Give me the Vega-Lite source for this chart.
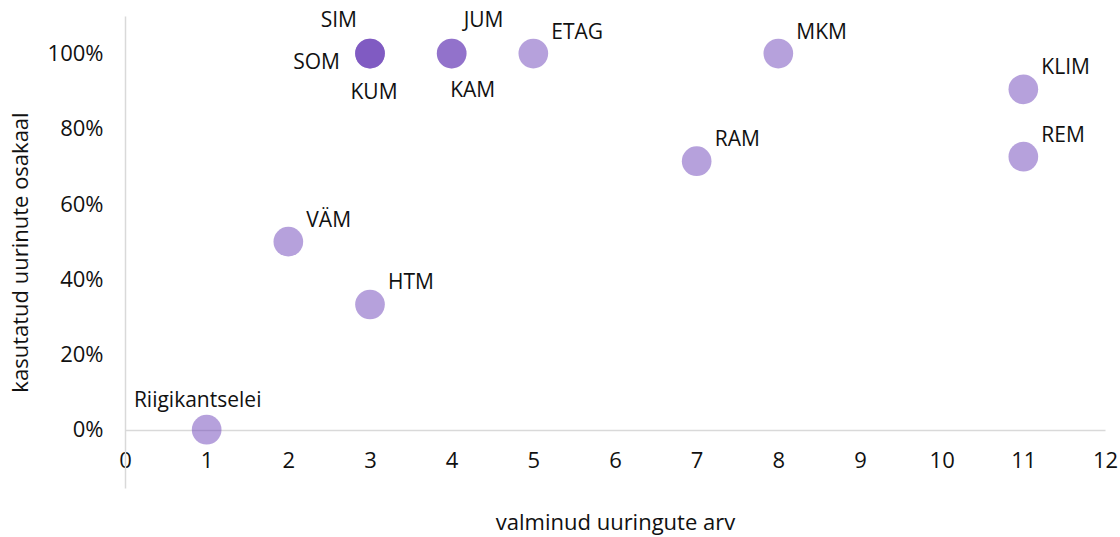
{
  "$schema": "https://vega.github.io/schema/vega-lite/v6.json",
  "width": 980,
  "height": 472,
  "autosize": "none",
  "padding": {"left": 125, "top": 16, "right": 15, "bottom": 49},
  "background": "white",
  "config": {
    "view": {"stroke": null},
    "font": "Open Sans",
    "text": {"font": "Open Sans", "fontSize": 21, "color": "#111111"}
  },
  "data": {
    "values": [
      {"asutus": "Riigikantselei", "uuringuid": 1, "osakaal": 0},
      {"asutus": "VÄM", "uuringuid": 2, "osakaal": 0.5},
      {"asutus": "HTM", "uuringuid": 3, "osakaal": 0.333},
      {"asutus": "SIM", "uuringuid": 3, "osakaal": 1},
      {"asutus": "SOM", "uuringuid": 3, "osakaal": 1},
      {"asutus": "KUM", "uuringuid": 3, "osakaal": 1},
      {"asutus": "JUM", "uuringuid": 4, "osakaal": 1},
      {"asutus": "KAM", "uuringuid": 4, "osakaal": 1},
      {"asutus": "ETAG", "uuringuid": 5, "osakaal": 1},
      {"asutus": "RAM", "uuringuid": 7, "osakaal": 0.714},
      {"asutus": "MKM", "uuringuid": 8, "osakaal": 1},
      {"asutus": "KLIM", "uuringuid": 11, "osakaal": 0.905},
      {"asutus": "REM", "uuringuid": 11, "osakaal": 0.726}
    ]
  },
  "encoding": {
    "x": {
      "field": "uuringuid", "type": "quantitative",
      "scale": {"domain": [0, 12], "nice": false, "zero": false},
      "axis": {
        "title": "valminud uuringute arv",
        "orient": "bottom",
        "offset": -58,
        "values": [0,1,2,3,4,5,6,7,8,9,10,11,12],
        "grid": false,
        "ticks": false,
        "tickSize": 0,
        "domainColor": "#d9d9d9",
        "domainWidth": 1.5,
        "labelFont": "Open Sans",
        "labelFontSize": 22,
        "labelColor": "#111111",
        "labelPadding": 20,
        "labelFlush": false,
        "titleFont": "Open Sans",
        "titleFontSize": 22,
        "titleFontWeight": "normal",
        "titleColor": "#111111",
        "titlePadding": 41
      }
    },
    "y": {
      "field": "osakaal", "type": "quantitative",
      "scale": {"domain": [-0.155, 1.1], "nice": false, "zero": false},
      "axis": {
        "title": "kasutatud uurinute osakaal",
        "values": [0, 0.2, 0.4, 0.6, 0.8, 1],
        "format": ".0%",
        "grid": false,
        "ticks": false,
        "tickSize": 0,
        "domainColor": "#d9d9d9",
        "domainWidth": 1.5,
        "labelFont": "Open Sans",
        "labelFontSize": 22,
        "labelColor": "#111111",
        "labelPadding": 22,
        "titleFont": "Open Sans",
        "titleFontSize": 22,
        "titleFontWeight": "normal",
        "titleColor": "#111111",
        "titlePadding": 15
      }
    }
  },
  "layer": [
    {
      "mark": {"type": "circle", "size": 880, "color": "#6e43ba", "opacity": 0.5}
    },
    {
      "transform": [{"filter": {"field": "asutus", "oneOf": ["VÄM", "HTM", "ETAG", "MKM", "RAM", "KLIM", "REM"]}}],
      "mark": {"type": "text", "align": "left", "baseline": "middle", "dx": 18, "dy": -21},
      "encoding": {"text": {"field": "asutus"}}
    },
    {
      "transform": [{"filter": {"field": "asutus", "equal": "JUM"}}],
      "mark": {"type": "text", "align": "left", "baseline": "middle", "dx": 12, "dy": -33},
      "encoding": {"text": {"field": "asutus"}}
    },
    {
      "transform": [{"filter": {"field": "asutus", "equal": "SIM"}}],
      "mark": {"type": "text", "align": "right", "baseline": "middle", "dx": -13, "dy": -33},
      "encoding": {"text": {"field": "asutus"}}
    },
    {
      "transform": [{"filter": {"field": "asutus", "equal": "SOM"}}],
      "mark": {"type": "text", "align": "right", "baseline": "middle", "dx": -30, "dy": 9},
      "encoding": {"text": {"field": "asutus"}}
    },
    {
      "transform": [{"filter": {"field": "asutus", "equal": "KUM"}}],
      "mark": {"type": "text", "align": "center", "baseline": "middle", "dx": 4, "dy": 39},
      "encoding": {"text": {"field": "asutus"}}
    },
    {
      "transform": [{"filter": {"field": "asutus", "equal": "KAM"}}],
      "mark": {"type": "text", "align": "center", "baseline": "middle", "dx": 21, "dy": 37},
      "encoding": {"text": {"field": "asutus"}}
    },
    {
      "transform": [{"filter": {"field": "asutus", "equal": "Riigikantselei"}}],
      "mark": {"type": "text", "align": "center", "baseline": "middle", "dx": -9, "dy": -29},
      "encoding": {"text": {"field": "asutus"}}
    }
  ]
}
